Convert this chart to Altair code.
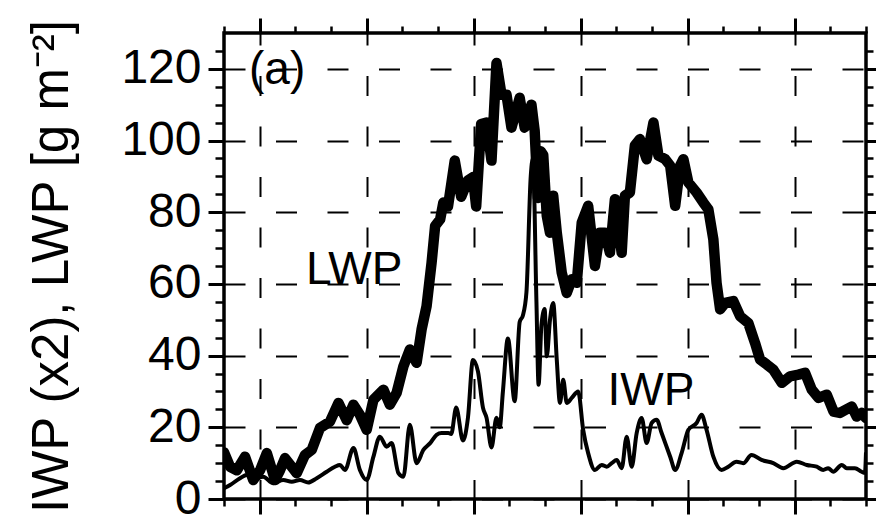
import altair as alt
import pandas as pd

# ---------------- data ----------------
lwp_t = [0.0, 0.17, 0.36, 0.59, 0.82, 1.01, 1.20, 1.43, 1.57, 1.71, 2.04, 2.27, 2.46, 2.69,
         2.97, 3.21, 3.44, 3.63, 3.81, 4.00, 4.19, 4.47, 4.65, 4.84, 5.03, 5.21, 5.40, 5.54,
         5.68, 5.82, 5.92, 6.06, 6.15, 6.28, 6.47, 6.65, 6.84, 6.98, 7.07, 7.21, 7.36, 7.50,
         7.64, 7.78, 7.92, 8.06, 8.29, 8.43, 8.62, 8.71, 8.80, 8.88, 8.95, 9.05, 9.14, 9.23,
         9.33, 9.47, 9.61, 9.75, 9.89, 10.03, 10.21, 10.40, 10.54, 10.68, 10.82, 10.96, 11.15,
         11.24, 11.38, 11.52, 11.66, 11.85, 12.04, 12.18, 12.37, 12.51, 12.65, 12.79, 12.88,
         13.02, 13.25, 13.44, 13.58, 13.72, 13.81, 13.91, 14.05, 14.28, 14.47, 14.70, 14.89,
         15.03, 15.22, 15.40, 15.64, 15.87, 16.11, 16.29, 16.48, 16.67, 16.90, 17.09, 17.27,
         17.60, 17.74, 17.88, 18.0]
lwp_v = [13.0, 9.0, 8.0, 11.8, 5.3, 8.0, 12.8, 5.3, 8.0, 11.4, 7.2, 12.3, 13.7, 19.8,
         21.6, 26.8, 22.0, 26.3, 23.5, 19.3, 27.7, 30.5, 26.3, 29.6, 37.0, 41.7, 38.0, 47.3,
         53.8, 65.9, 76.2, 78.0, 82.7, 81.6, 94.4, 84.3, 88.9, 89.8, 81.6, 104.6, 105.0, 94.4,
         121.6, 112.8, 112.8, 103.6, 111.9, 103.6, 110.0, 102.7, 84.0, 97.0, 96.0, 79.0, 74.3, 84.6,
         74.3, 63.1, 57.5, 61.3, 60.3, 77.1, 81.8, 65.0, 74.3, 74.3, 68.7, 83.6, 68.7,
         84.6, 85.5, 98.6, 100.4, 94.8, 105.0, 95.8, 94.8, 93.0, 81.8, 93.0, 94.8,
         88.3, 85.5, 82.7, 80.8, 72.4, 60.3, 52.9, 54.7, 55.2, 51.0, 49.1, 43.5,
         38.9, 37.5, 36.1, 32.4, 34.2, 34.7, 35.2, 30.5, 28.2, 29.1, 24.4, 24.0,
         25.8, 23.0, 24.0, 22.6]

iwp_t = [0.0, 0.17, 0.45, 0.64, 0.82, 1.10, 1.38, 1.66, 1.90, 2.13, 2.36, 2.60, 2.88, 3.11,
         3.25, 3.39, 3.63, 3.81, 4.00, 4.19, 4.37, 4.56, 4.70, 4.89, 5.03, 5.21, 5.40, 5.59,
         5.78, 5.96, 6.10, 6.29, 6.37, 6.51, 6.70, 6.84, 6.98, 7.12, 7.26, 7.36, 7.50, 7.64,
         7.73, 7.82, 7.96, 8.15, 8.29, 8.38, 8.48, 8.60, 8.66, 8.76, 8.82, 8.90, 8.99, 9.05,
         9.14, 9.23, 9.33, 9.42, 9.51, 9.61, 9.75, 9.93, 10.07, 10.21, 10.40, 10.59, 10.73,
         10.87, 11.01, 11.15, 11.29, 11.43, 11.57, 11.71, 11.85, 11.99, 12.13, 12.27, 12.51,
         12.65, 12.83, 13.02, 13.25, 13.39, 13.53, 13.72, 13.95, 14.14, 14.37, 14.56, 14.79,
         15.07, 15.40, 15.68, 16.06, 16.34, 16.62, 16.80, 16.94, 17.08, 17.32, 17.46, 17.69,
         17.88, 17.97, 18.0]
iwp_v = [3.0, 3.9, 5.8, 6.7, 5.5, 6.2, 4.4, 5.3, 4.8, 5.3, 4.6, 5.8, 7.6, 9.0,
         9.5, 8.1, 14.2, 8.1, 5.3, 11.8, 17.4, 14.6, 15.6, 7.2, 6.2, 20.7, 10.0, 13.7,
         15.6, 17.9, 18.4, 18.4, 18.1, 25.5, 16.3, 22.7, 38.8, 35.6, 25.5, 22.7, 14.4, 22.7,
         20.0, 30.0, 44.8, 27.3, 49.4, 51.2, 57.7, 90.0, 95.0, 55.0, 31.9, 48.5, 53.0, 39.8,
         50.0, 54.7, 38.9, 26.8, 33.3, 26.8, 28.2, 30.0, 19.3, 12.8, 8.1, 9.5, 9.0,
         10.0, 10.9, 8.6, 17.4, 9.0, 18.4, 22.6, 15.6, 21.2, 22.1, 18.4, 11.8,
         8.1, 12.8, 19.3, 21.2, 23.5, 19.3, 11.8, 8.1, 9.0, 10.4, 10.0, 12.3,
         10.9, 10.0, 8.6, 10.4, 9.5, 9.0, 8.1, 8.6, 7.6, 9.5, 8.6, 8.6,
         7.6, 7.3, 13.0]

x_major = [1, 4, 7, 10, 13, 16]
x_minor = [0, 2, 3, 5, 6, 8, 9, 11, 12, 14, 15, 17, 18]
y_major = [0, 20, 40, 60, 80, 100, 120]
y_minor = [5, 10, 15, 25, 30, 35, 45, 50, 55, 65, 70, 75, 85, 90, 95, 105, 110, 115, 125]

note_text = ["(a)", "LWP", "IWP"]
note_t = [1.49, 3.65, 11.97]
note_v = [115.8, 59.9, 26.3]

y_title = "IWP (x2), LWP [g m\u207b\u00b2]"

# ---------------- chart ----------------
FONT = "Liberation Sans"
lwp = pd.DataFrame({"t": lwp_t, "v": lwp_v})
iwp = pd.DataFrame({"t": iwp_t, "v": iwp_v})
notes = pd.DataFrame({"t": note_t, "v": note_v, "txt": note_text})

xs = alt.Scale(domain=[0, 18], nice=False, zero=False)
ys = alt.Scale(domain=[0, 130], nice=False, zero=False)

common = dict(domain=False, tickColor="black", labelColor="black", labelFont=FONT,
              titleFont=FONT, title=None)

ax_bottom = alt.Axis(orient="bottom", values=x_major, labels=False, tickSize=15, tickWidth=3,
                     grid=True, gridColor="black", gridWidth=2, gridDash=[20, 30.5],
                     gridDashOffset=8, **common)
ax_top = alt.Axis(orient="top", values=x_major, labels=False, tickSize=15, tickWidth=3,
                  grid=False, **common)
ax_bottom_minor = alt.Axis(orient="bottom", values=x_minor, labels=False, tickSize=7,
                           tickWidth=2.5, grid=False, **common)
ax_top_minor = alt.Axis(orient="top", values=x_minor, labels=False, tickSize=7,
                        tickWidth=2.5, grid=False, **common)

ax_left = alt.Axis(orient="left", values=y_major, labels=True, labelFontSize=48,
                   labelPadding=7, labelBaseline="middle", tickSize=16, tickWidth=3,
                   grid=True, gridColor="black", gridWidth=2, gridDash=[21, 30.5],
                   domain=False, tickColor="black", labelColor="black", labelFont=FONT,
                   title=y_title, titleFont=FONT, titleFontSize=51, titleFontWeight="normal",
                   titleColor="black", titleAngle=270, titleAlign="center",
                   titleBaseline="middle", titleX=-172, titleY=233)
ax_right = alt.Axis(orient="right", values=y_major, labels=False, tickSize=17, tickWidth=3,
                    grid=False, **common)
ax_left_minor = alt.Axis(orient="left", values=y_minor, labels=False, tickSize=9,
                         tickWidth=2.5, grid=False, **common)
ax_right_minor = alt.Axis(orient="right", values=y_minor, labels=False, tickSize=7,
                          tickWidth=2.5, grid=False, **common)

minor1 = alt.Chart(lwp).mark_line(opacity=0).encode(
    x=alt.X("t:Q", scale=xs, axis=ax_bottom_minor),
    y=alt.Y("v:Q", scale=ys, axis=ax_left_minor))
minor2 = alt.Chart(lwp).mark_line(opacity=0).encode(
    x=alt.X("t:Q", scale=xs, axis=ax_top_minor),
    y=alt.Y("v:Q", scale=ys, axis=ax_right_minor))

lwp_line = alt.Chart(lwp).mark_line(color="black", strokeWidth=10.5, strokeCap="round",
                                    strokeJoin="round", clip=True).encode(
    x=alt.X("t:Q", scale=xs, axis=ax_bottom),
    y=alt.Y("v:Q", scale=ys, axis=ax_left))
iwp_line = alt.Chart(iwp).mark_line(color="black", strokeWidth=4, strokeJoin="round",
                                    interpolate="monotone", clip=True).encode(
    x=alt.X("t:Q", scale=xs, axis=ax_top),
    y=alt.Y("v:Q", scale=ys, axis=ax_right))

text = alt.Chart(notes).mark_text(font=FONT, fontSize=46, color="black", align="center",
                                  baseline="alphabetic").encode(
    x=alt.X("t:Q", scale=xs, axis=None),
    y=alt.Y("v:Q", scale=ys, axis=None),
    text="txt:N")

chart = alt.layer(minor1, minor2, lwp_line, iwp_line, text).resolve_axis(
    x="independent", y="independent"
).properties(
    width=642, height=466,
    autosize=alt.AutoSizeParams(type="none"),
    padding={"left": 216, "top": 25, "right": 10, "bottom": 30},
    background="white",
).configure_view(stroke="black", strokeWidth=3.5)

chart.save("out.html", embed_options={"renderer": "svg", "actions": False})
